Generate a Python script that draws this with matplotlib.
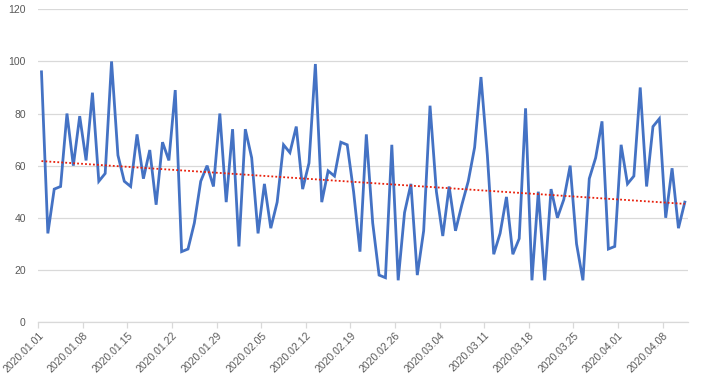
import numpy as np
import pandas as pd
import matplotlib
matplotlib.use("Agg")
import matplotlib.pyplot as plt

# daily values, 2020.01.01 .. 2020.04.11
values = [
    96, 34, 51, 52, 80, 60, 79, 62, 88, 54,
    57, 100, 64, 54, 52, 72, 55, 66, 45, 69,
    62, 89, 27, 28, 38, 54, 60, 52, 80, 46,
    74, 29, 74, 63, 34, 53, 36, 46, 68, 65,
    75, 51, 61, 99, 46, 58, 56, 69, 68, 50,
    27, 72, 38, 18, 17, 68, 16, 42, 53, 18,
    35, 83, 50, 33, 52, 35, 45, 54, 67, 94,
    64, 26, 34, 48, 26, 32, 82, 16, 50, 16,
    51, 40, 47, 60, 30, 16, 55, 63, 77, 28,
    29, 68, 53, 56, 90, 52, 75, 78, 40, 59,
    36, 46,
]
dates = pd.date_range("2020-01-01", periods=len(values), freq="D")
y_ticks = [0, 20, 40, 60, 80, 100, 120]

blue = "#4472C4"
grey_text = "#595959"
grid_col = "#D9D9D9"

plt.rcParams["font.family"] = ["Liberation Sans", "DejaVu Sans"]

fig = plt.figure(figsize=(7.05, 3.75), dpi=100)
ax = fig.add_axes([38.3 / 705, 1 - 322 / 375, (688 - 38.3) / 705, (322 - 9.3) / 375])

x = np.arange(len(values))
ax.plot(x, values, color=blue, lw=2.0, solid_joinstyle="miter", zorder=3)

# linear trendline
k, b = np.polyfit(x, values, 1)
ax.plot(x, k * x + b, color="#E8200C", lw=1.3, linestyle=(0, (1, 1.2)), zorder=4)

ax.set_xlim(-0.5, len(values) - 0.5)
ax.set_ylim(0, 120)
ax.set_yticks(y_ticks)
ax.grid(axis="y", color=grid_col, lw=0.9)
ax.set_axisbelow(True)

tick_pos = np.arange(0, len(values), 7)
ax.set_xticks(tick_pos - 0.5)
ax.set_xticklabels([dates[i].strftime("%Y.%m.%d") for i in tick_pos],
                   rotation=45, ha="right", va="top", rotation_mode="anchor")

for s in ["top", "right", "left"]:
    ax.spines[s].set_visible(False)
ax.spines["bottom"].set_color(grid_col)
ax.spines["bottom"].set_linewidth(0.9)

ax.tick_params(axis="y", length=0, pad=9, labelsize=7.5, labelcolor=grey_text)
ax.tick_params(axis="x", length=4, width=0.9, color=grid_col, pad=2,
               labelsize=7.5, labelcolor=grey_text)

fig.savefig("out.png", dpi=100)
